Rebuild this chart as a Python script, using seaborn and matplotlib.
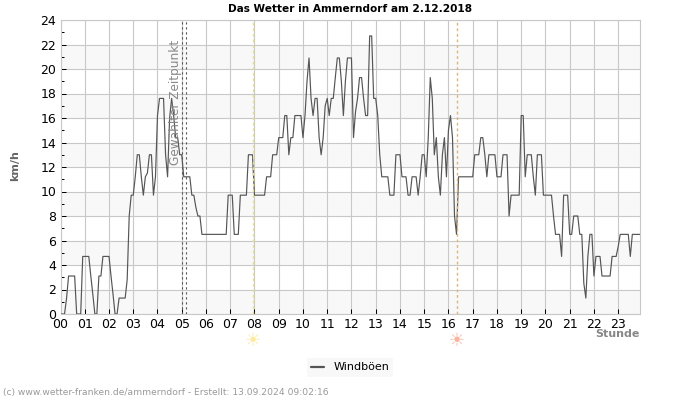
import numpy as np
import pandas as pd
import matplotlib
matplotlib.use("Agg")
import matplotlib.pyplot as plt
import seaborn as sns

# Windboeen, 5-Minuten-Werte je Stunde
h00 = [0, 0, 0, 1.3, 3.1, 3.1, 3.1, 3.1, 0, 0, 0, 4.7]
h01 = [4.7, 4.7, 4.7, 3.1, 1.6, 0, 0, 3.1, 3.1, 4.7, 4.7, 4.7]
h02 = [4.7, 3.1, 1.6, 0, 0, 1.3, 1.3, 1.3, 1.3, 2.8, 8, 9.7]
h03 = [9.7, 11.2, 13, 13, 11.2, 9.7, 11.2, 11.5, 13, 13, 9.7, 11.2]
h04 = [16.2, 17.6, 17.6, 17.6, 13, 11.2, 16, 17.6, 16.2, 14.4, 14.4, 13]
h05 = [13, 11.2, 11.2, 11.2, 11.2, 9.7, 9.7, 8.7, 8, 8, 6.5, 6.5]
h06 = [6.5, 6.5, 6.5, 6.5, 6.5, 6.5, 6.5, 6.5, 6.5, 6.5, 6.5, 9.7]
h07 = [9.7, 9.7, 6.5, 6.5, 6.5, 9.7, 9.7, 9.7, 9.7, 13, 13, 13]
h08 = [9.7, 9.7, 9.7, 9.7, 9.7, 9.7, 11.2, 11.2, 11.2, 13, 13, 13]
h09 = [14.4, 14.4, 14.4, 16.2, 16.2, 13, 14.4, 14.4, 16.2, 16.2, 16.2, 16.2]
h10 = [14.4, 16.2, 19, 20.9, 17.6, 16.2, 17.6, 17.6, 14.4, 13, 14.4, 17]
h11 = [17.6, 16.2, 17.6, 17.6, 19.3, 20.9, 20.9, 19, 16.2, 19, 20.9, 20.9]
h12 = [20.9, 14.4, 16.5, 17.6, 19.3, 19.3, 17.6, 16.2, 16.2, 22.7, 22.7, 17.6]
h13 = [17.6, 16.2, 13, 11.2, 11.2, 11.2, 11.2, 9.7, 9.7, 9.7, 13, 13]
h14 = [13, 11.2, 11.2, 11.2, 9.7, 9.7, 11.2, 11.2, 11.2, 9.7, 11.2, 13]
h15 = [13, 11.2, 14.4, 19.3, 17.6, 13, 14.4, 11.2, 9.7, 13, 14.4, 11.2]
h16 = [15, 16.2, 14.4, 8, 6.5, 11.2, 11.2, 11.2, 11.2, 11.2, 11.2, 11.2]
h17 = [11.2, 13, 13, 13, 14.4, 14.4, 13, 11.2, 13, 13, 13, 13]
h18 = [11.2, 11.2, 11.2, 13, 13, 13, 8, 9.7, 9.7, 9.7, 9.7, 9.7]
h19 = [16.2, 16.2, 11.2, 13, 13, 13, 11.2, 9.7, 13, 13, 13, 9.7]
h20 = [9.7, 9.7, 9.7, 9.7, 8, 6.5, 6.5, 6.5, 4.7, 9.7, 9.7, 9.7]
h21 = [6.5, 6.5, 8, 8, 8, 6.5, 6.5, 2.5, 1.3, 4.7, 6.5, 6.5]
h22 = [3.1, 4.7, 4.7, 4.7, 3.1, 3.1, 3.1, 3.1, 3.1, 4.7, 4.7, 4.7]
h23 = [5.5, 6.5, 6.5, 6.5, 6.5, 6.5, 4.7, 6.5, 6.5, 6.5, 6.5, 6.5]
hours = [h00, h01, h02, h03, h04, h05, h06, h07, h08, h09, h10, h11,
         h12, h13, h14, h15, h16, h17, h18, h19, h20, h21, h22, h23]

hour_labels = [f"{h:02d}" for h in range(24)]
y_major = list(range(0, 25, 2))
y_minor = list(range(1, 24, 2))
selected_times = [5.0, 5.17]
sunrise = 7.94
sunset = 16.35

sns.set_style("white")
plt.rcParams["font.family"] = ["DejaVu Sans"]

gust = np.concatenate(hours)
df = pd.DataFrame({"Stunde": np.arange(len(gust)) / 12, "kmh": gust})

fig = plt.figure(figsize=(7, 4), dpi=100)
ax = fig.add_axes([60.5 / 700, 1 - 314 / 400, 579.5 / 700, 294 / 400])

# graue Baender
for low in range(0, 24, 4):
    ax.axhspan(low, low + 2, color="#f8f8f8", lw=0, zorder=0)

sns.lineplot(data=df, x="Stunde", y="kmh", ax=ax, color="#555555", lw=0.85,
             label="Windböen", zorder=3, errorbar=None)

for t in selected_times:
    ax.axvline(t, color="#555555", lw=0.8, ls=(0, (2, 2.5)), zorder=4)
ax.axvline(sunrise, color="#f7e84a", lw=1, ls=(0, (2, 2)), zorder=4)
ax.axvline(sunset, color="#fbb040", lw=1, ls=(0, (2, 2)), zorder=4)

ax.text(4.75, 22.4, "Gewählter Zeitpunkt", rotation=90, ha="center", va="top",
        fontsize=8.7, color="#888888", zorder=5)

ax.set_xlim(0, 23.9)
ax.set_ylim(0, 24)
ax.set_xticks(range(24))
ax.set_xticklabels(hour_labels, ha="center")
ax.set_yticks(y_major)
ax.set_yticks(y_minor, minor=True)
ax.grid(True, which="major", color="#c8c8c8", lw=0.8, zorder=1)
ax.set_axisbelow(True)
ax.tick_params(axis="both", which="major", direction="in", length=3.5, width=0.72,
               color="black", labelsize=9, labelcolor="black", pad=3,
               bottom=True, left=True)
ax.tick_params(axis="y", which="minor", direction="in", length=2.2, width=0.72,
               color="black", left=True)
for spine in ax.spines.values():
    spine.set_color("#c8c8c8")
    spine.set_linewidth(0.8)

ax.set_xlabel("")
ax.set_ylabel("")
fig.text(15.5 / 700, 1 - 166 / 400, "km/h", rotation=90, ha="center", va="center",
         fontsize=8, fontweight="bold", color="#666666")
fig.text(640 / 700, 1 - 334 / 400, "Stunde", ha="right", va="center",
         fontsize=8, fontweight="bold", color="#888888")
fig.text(350 / 700, 1 - 8.5 / 400, "Das Wetter in Ammerndorf am 2.12.2018",
         ha="center", va="center", fontsize=7.6, fontweight="bold", color="black")
fig.text(3 / 700, 1 - 393 / 400,
         "(c) www.wetter-franken.de/ammerndorf - Erstellt: 13.09.2024 09:02:16",
         ha="left", va="center", fontsize=6.6, color="#999999")

# Sonnenauf- und -untergang
ax.annotate("☀", (sunrise, 0), xytext=(0, -19.5), textcoords="offset points",
            ha="center", va="center", fontsize=13, color="#fde9a0")
ax.annotate("☀", (sunset, 0), xytext=(0, -19.5), textcoords="offset points",
            ha="center", va="center", fontsize=13, color="#f9b4a0")

leg = ax.legend(loc="center", bbox_to_anchor=(350 / 700, 1 - 367.5 / 400),
                bbox_transform=fig.transFigure, frameon=True, facecolor="#f8f8f8",
                edgecolor="none", fancybox=False, framealpha=1, fontsize=8,
                handlelength=1.2, borderpad=0.4, labelcolor="black")
leg.get_lines()[0].set_linewidth(1.6)

fig.savefig("out.png", dpi=100)
plt.close(fig)
